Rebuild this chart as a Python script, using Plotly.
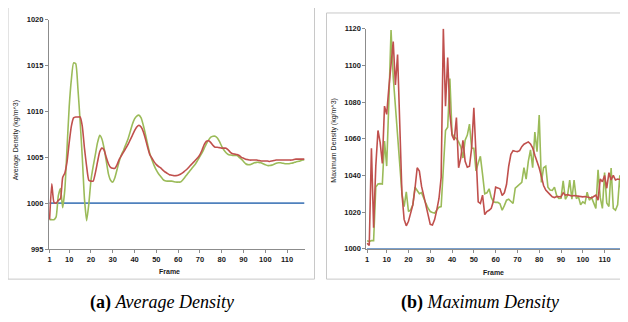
import plotly.graph_objects as go

frames = list(range(1, 119))

# (a) Average Density
avg_red = [998.2, 1002.1, 1000.1, 1000.0, 1000.3, 1000.5, 1002.8, 1003.3, 1004.5, 1006.6,
           1008.4, 1009.3, 1009.4, 1009.4, 1009.4, 1008.4, 1006.0, 1004.0, 1002.5, 1002.4,
           1002.4, 1003.3, 1004.5, 1005.6, 1006.0, 1005.8, 1005.0, 1004.3, 1003.9, 1003.8,
           1003.8, 1004.2, 1004.8, 1005.2, 1005.6, 1006.0, 1006.4, 1006.9, 1007.4, 1007.9,
           1008.3, 1008.5, 1008.3, 1007.8, 1007.0, 1006.1, 1005.3, 1004.9, 1004.5, 1004.2,
           1004.0, 1003.85, 1003.6, 1003.4, 1003.25, 1003.1, 1003.05, 1003.0, 1003.0, 1003.05,
           1003.15, 1003.3, 1003.5, 1003.7, 1003.95, 1004.2, 1004.45, 1004.7, 1004.95, 1005.3,
           1005.8, 1006.4, 1006.75, 1006.8, 1006.6, 1006.3, 1006.1, 1006.1, 1006.05, 1006.0,
           1006.0, 1006.0, 1005.8, 1005.55, 1005.4, 1005.35, 1005.3, 1005.2, 1005.0, 1004.9,
           1004.8, 1004.75, 1004.7, 1004.7, 1004.7, 1004.7, 1004.65, 1004.6, 1004.6, 1004.6,
           1004.6, 1004.55, 1004.6, 1004.65, 1004.7, 1004.7, 1004.7, 1004.7, 1004.7, 1004.7,
           1004.7, 1004.7, 1004.75, 1004.8, 1004.8, 1004.8, 1004.8, 1004.8]
avg_green = [998.2, 998.2, 998.2, 998.5, 1000.8, 1001.6, 999.5, 1001.5, 1006.0, 1010.5,
             1013.5, 1015.3, 1015.2, 1012.5, 1009.0, 1005.0, 1000.5, 998.1, 999.9, 1002.5,
             1004.0, 1005.3, 1006.6, 1007.4, 1007.0, 1006.0, 1004.6, 1003.2, 1002.5, 1002.3,
             1002.8, 1003.7, 1004.6, 1005.3, 1005.8, 1006.4, 1007.0, 1007.8, 1008.6, 1009.2,
             1009.5, 1009.6, 1009.3, 1008.5, 1007.5, 1006.4, 1005.4, 1004.7, 1004.1, 1003.6,
             1003.2, 1002.9, 1002.6, 1002.45, 1002.4, 1002.4, 1002.4, 1002.35, 1002.3, 1002.3,
             1002.3, 1002.5, 1002.8, 1003.1, 1003.4, 1003.7, 1004.0, 1004.3, 1004.7, 1005.1,
             1005.5, 1006.0, 1006.5, 1006.9, 1007.2, 1007.3, 1007.3, 1007.1, 1006.7, 1006.2,
             1005.8, 1005.5, 1005.3, 1005.25, 1005.2, 1005.2, 1005.2, 1005.0, 1004.8, 1004.55,
             1004.3, 1004.2, 1004.2, 1004.3, 1004.4, 1004.45, 1004.45, 1004.4, 1004.3, 1004.2,
             1004.1, 1004.1, 1004.15, 1004.25, 1004.35, 1004.4, 1004.4, 1004.35, 1004.3, 1004.3,
             1004.3, 1004.35, 1004.4, 1004.5, 1004.55, 1004.6, 1004.7, 1004.75]
avg_blue = [1000.0] * 118

# (b) Maximum Density
max_red = [1003.0, 1001.8, 1054.8, 1011.5, 1045.0, 1064.5, 1058.0, 1046.5, 1077.8, 1073.3,
           1088.0, 1100.0, 1113.0, 1089.3, 1106.0, 1068.0, 1030.0, 1016.0, 1012.5, 1015.0,
           1019.0, 1023.9, 1033.0, 1044.2, 1042.4, 1034.0, 1029.0, 1024.0, 1019.0, 1013.3,
           1012.9, 1015.9, 1021.2, 1027.4, 1038.9, 1120.2, 1077.8, 1104.3, 1074.0, 1061.9,
           1059.2, 1071.6, 1044.2, 1049.5, 1059.2, 1047.7, 1044.5, 1045.0, 1055.0, 1076.9,
           1051.3, 1025.6, 1024.7, 1029.2, 1018.6, 1020.3, 1021.0, 1022.1, 1026.0, 1033.6,
           1033.2, 1032.7, 1029.0, 1030.5, 1035.0, 1045.0, 1051.5, 1053.5, 1053.2, 1053.0,
           1053.5, 1055.7, 1057.0, 1057.5, 1058.3, 1057.2, 1055.0, 1051.0, 1048.0, 1044.0,
           1039.5, 1034.5, 1032.0, 1030.5, 1029.5, 1028.3, 1027.9, 1028.5, 1028.5, 1028.3,
           1030.5, 1029.2, 1029.5, 1029.0, 1028.8, 1029.0, 1028.8, 1028.5, 1028.2, 1028.3,
           1028.5, 1028.2, 1028.3, 1027.7, 1028.5, 1029.2, 1026.5, 1038.0, 1036.5, 1040.0,
           1033.0, 1041.5, 1037.5, 1040.0, 1037.5, 1038.0, 1037.8, 1038.2]
max_green = [1004.4, 1004.0, 1004.4, 1004.4, 1033.6, 1035.3, 1035.5, 1035.3, 1058.7, 1045.1,
             1080.0, 1119.3, 1093.7, 1078.0, 1062.0, 1046.0, 1030.0, 1023.0, 1031.0, 1020.3,
             1021.2, 1024.0, 1033.6, 1031.8, 1030.0, 1030.6, 1027.0, 1024.7, 1022.1, 1020.3,
             1019.8, 1019.4, 1021.2, 1022.6, 1023.0, 1046.8, 1064.5, 1066.3, 1092.8, 1062.7,
             1061.0, 1060.1, 1058.3, 1055.7, 1049.5, 1059.2, 1062.0, 1068.0, 1054.8, 1054.8,
             1042.4, 1046.8, 1050.4, 1040.6, 1030.0, 1030.5, 1032.7, 1028.0, 1025.6, 1025.3,
             1025.3, 1024.5, 1021.0, 1023.5, 1026.5, 1027.0, 1025.6, 1024.7, 1033.0, 1034.0,
             1035.0, 1036.2, 1044.2, 1038.0, 1047.7, 1053.9, 1044.2, 1063.6, 1053.0, 1073.0,
             1036.2, 1044.2, 1045.0, 1033.6, 1032.0, 1031.8, 1033.6, 1029.0, 1027.4, 1027.5,
             1037.0, 1027.0, 1029.0, 1037.5, 1027.0, 1037.5, 1027.4, 1028.3, 1024.0, 1025.6,
             1024.7, 1030.9, 1026.5, 1028.0, 1025.0, 1022.0, 1043.0, 1028.0, 1022.0, 1041.5,
             1025.0, 1023.0, 1044.0, 1022.0, 1021.0, 1024.0, 1040.0, 1023.0]
max_blue = [1000.0] * 118

x_tickvals = [1, 10, 20, 30, 40, 50, 60, 70, 80, 90, 100, 110]
x_ticktext = [str(v) for v in x_tickvals]
avg_yticks = [995, 1000, 1005, 1010, 1015, 1020]
max_yticks = [1000, 1020, 1040, 1060, 1080, 1100, 1120]

BLUE, RED, GREEN = "#4F81BD", "#C0504D", "#9BBB59"

# page body adds an 8px offset; figure is sized so the page is 628x322
OFF = 8
W, H = 628 - OFF, 322 - OFF


def px(x):
    return (x - OFF) / W


def py(y):
    return 1 - (y - OFF) / H


fig = go.Figure()
for ys, col, xa, ya, shape in [
    (avg_blue, BLUE, "x", "y", "linear"),
    (avg_green, GREEN, "x", "y", "spline"),
    (avg_red, RED, "x", "y", "spline"),
    (max_blue, BLUE, "x2", "y2", "linear"),
    (max_green, GREEN, "x2", "y2", "linear"),
    (max_red, RED, "x2", "y2", "linear"),
]:
    fig.add_trace(go.Scatter(x=frames, y=ys, mode="lines", xaxis=xa, yaxis=ya,
                             line=dict(color=col, width=1.6, shape=shape, smoothing=0.5),
                             showlegend=False, hoverinfo="skip", cliponaxis=False))

tickfont = dict(family="Liberation Sans", size=7.5, color="#1a1a1a", weight="bold")
axcommon = dict(showgrid=False, zeroline=False, showline=True, linecolor="#8c8c8c",
                linewidth=1, ticks="outside", ticklen=3, tickcolor="#8c8c8c",
                tickfont=tickfont)

fig.update_layout(
    width=W, height=H, margin=dict(l=0, r=0, t=0, b=0),
    paper_bgcolor="white", plot_bgcolor="white",
    xaxis=dict(domain=[px(48), px(304)], range=[0.7, 118], tickvals=x_tickvals,
               ticktext=x_ticktext, anchor="y", **axcommon),
    yaxis=dict(domain=[py(252), py(16)], range=[995, 1020], tickvals=avg_yticks,
               anchor="x", **axcommon),
    xaxis2=dict(domain=[px(366), px(622)], range=[0.7, 118], tickvals=x_tickvals,
                ticktext=x_ticktext, anchor="y2", **axcommon),
    yaxis2=dict(domain=[py(251.7), py(25.3)], range=[1000, 1120], tickvals=max_yticks,
                anchor="x2", **axcommon),
)

border = dict(color="#c8c8c8", width=1)
fig.add_shape(type="rect", xref="paper", yref="paper", x0=px(7), x1=px(314),
              y0=py(283), y1=py(-5), line=border)
fig.add_shape(type="rect", xref="paper", yref="paper", x0=px(326), x1=px(634),
              y0=py(283), y1=py(9), line=border)

small = dict(family="Liberation Sans", size=7, color="#1a1a1a")
ann = [
    dict(x=px(169), y=py(275), text="<b>Frame</b>", font=small),
    dict(x=px(493), y=py(276), text="<b>Frame</b>", font=small),
    dict(x=px(15), y=py(140), text="Average Density (kg/m^3)", textangle=-90, font=small),
    dict(x=px(334), y=py(140), text="Maximum Density (kg/m^3)", textangle=-90, font=small),
    dict(x=px(161), y=py(307), text="<b>(a)</b> <i>Average Density</i>",
         font=dict(family="Liberation Serif", size=18, color="black")),
    dict(x=px(480), y=py(307), text="<b>(b)</b> <i>Maximum Density</i>",
         font=dict(family="Liberation Serif", size=18, color="black")),
]
for a in ann:
    fig.add_annotation(xref="paper", yref="paper", showarrow=False,
                       xanchor="center", yanchor="middle", **a)

fig.write_html("out.html")
